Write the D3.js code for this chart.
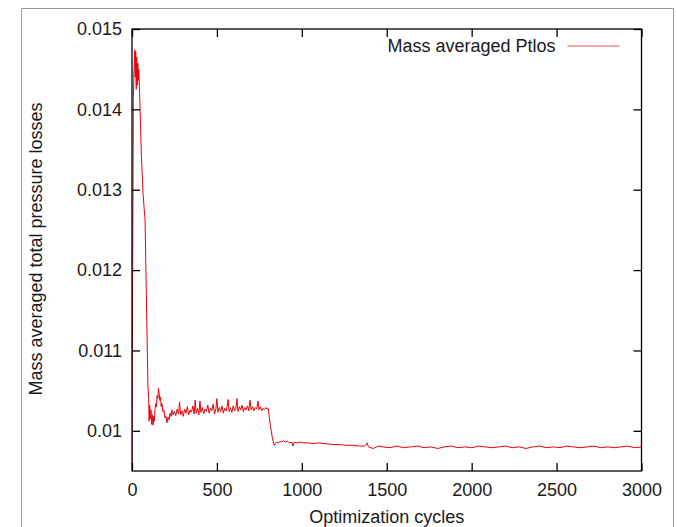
<!DOCTYPE html>
<html>
<head>
<meta charset="utf-8">
<script src="https://cdn.jsdelivr.net/npm/d3@7"></script>
<style>
  body { margin: 0; background: #fff; }
  svg text { font-family: 'Liberation Sans', Arial, sans-serif; fill: #1a1a1a; }
</style>
</head>
<body>
<div id="plot"></div>
<script>
// cycles and mass averaged total pressure losses
var cycles = [
  0, 4, 8, 12, 16, 19, 22, 25, 28, 31, 34, 37, 40, 45, 55, 65, 77, 86, 94, 98,
  101, 104, 108, 112, 116, 120, 124, 128, 132, 136, 140, 144, 148, 152, 156, 160, 164, 168, 172, 176,
  182, 188, 194, 200, 206, 212, 218, 224, 230, 236, 242,
  250, 258, 266, 274, 280, 286, 294, 302, 310, 318, 326, 334, 342, 350, 358, 366, 372, 378, 386, 394,
  400, 406, 414, 422, 430, 438, 446, 454, 462, 470, 478, 486, 494, 500, 506, 514, 522, 530, 538, 546,
  554, 560, 566, 572, 580, 588, 596, 604, 612, 618, 624, 632, 640, 648, 656, 664, 672, 680, 688, 695,
  702, 710, 718, 726, 734, 742, 748, 756, 764, 772, 780, 788, 796,
  802, 808, 814, 820, 826, 832, 838, 844, 852, 862, 872, 882, 892, 902, 915, 928, 940, 948, 956, 970,
  990, 1010, 1040, 1070, 1100, 1140, 1180, 1220, 1260, 1300, 1340, 1370, 1384, 1392, 1420, 1450, 1480,
  1520, 1560, 1600, 1640, 1680, 1720, 1760, 1800, 1840, 1880, 1920, 1960, 2000, 2040, 2080, 2120,
  2160, 2200, 2240, 2280, 2320, 2360, 2400, 2440, 2480, 2520, 2560, 2600, 2640, 2680, 2720, 2760,
  2800, 2840, 2880, 2920, 2960, 3000
]
var ptlos = [
  0.00930, 0.01200, 0.01415, 0.01450, 0.01474, 0.01440, 0.01472, 0.01425, 0.01465, 0.01430,
  0.01458, 0.01436, 0.01450, 0.01420, 0.01345, 0.01295, 0.01262, 0.01150, 0.01055, 0.01040,
  0.01012, 0.01032, 0.01015, 0.01026, 0.01008, 0.01020, 0.01007, 0.01018, 0.01012, 0.01028,
  0.01034, 0.01030, 0.01044, 0.01040, 0.01053, 0.01046, 0.01038, 0.01042, 0.01030, 0.01034,
  0.01024, 0.01026, 0.01016, 0.01018, 0.01010, 0.01017, 0.01014, 0.01022, 0.01018, 0.01026, 0.01020,
  0.01024, 0.01019, 0.01027, 0.01021, 0.01036, 0.01020, 0.01025, 0.01018, 0.01027, 0.01022,
  0.01030, 0.01020, 0.01026, 0.01023, 0.01031, 0.01021, 0.01038, 0.01022, 0.01028, 0.01020,
  0.01037, 0.01023, 0.01029, 0.01021, 0.01027, 0.01024, 0.01032, 0.01022, 0.01028, 0.01025,
  0.01033, 0.01021, 0.01027, 0.01040, 0.01023, 0.01029, 0.01024, 0.01031, 0.01022, 0.01028,
  0.01025, 0.01030, 0.01039, 0.01024, 0.01029, 0.01023, 0.01031, 0.01025, 0.01028, 0.01040,
  0.01024, 0.01030, 0.01026, 0.01032, 0.01024, 0.01029, 0.01026, 0.01031, 0.01025, 0.01038,
  0.01026, 0.01030, 0.01025, 0.01029, 0.01027, 0.01037, 0.01026, 0.01030, 0.01025, 0.01028,
  0.01026, 0.01029, 0.01027,
  0.01028, 0.01018, 0.01008, 0.01000, 0.00992, 0.00986, 0.00982, 0.00984, 0.00986, 0.00985,
  0.00987, 0.00986, 0.00988, 0.00986, 0.00987, 0.00985, 0.00986, 0.00981, 0.00986, 0.00985,
  0.00986, 0.00985, 0.00985, 0.00984, 0.00985, 0.00984, 0.00983, 0.00983, 0.00982, 0.00982,
  0.00981, 0.00981, 0.00985, 0.00980, 0.00978, 0.00981, 0.00980,
  0.00979, 0.00981, 0.00979, 0.00980, 0.00981, 0.00979, 0.00980, 0.00978, 0.00980, 0.00981,
  0.00979, 0.00980, 0.00979, 0.00981, 0.00980, 0.00979, 0.00980, 0.00981, 0.00979, 0.00980,
  0.00978, 0.00980, 0.00981, 0.00979, 0.00980, 0.00979, 0.00981, 0.00980, 0.00979, 0.00980,
  0.00981, 0.00979, 0.00980, 0.00979, 0.00980, 0.00981, 0.00979, 0.00980
]
var xTicks = [0, 500, 1000, 1500, 2000, 2500, 3000]
var yTicks = [0.01, 0.011, 0.012, 0.013, 0.014, 0.015]
var yTickLabels = ['0.01', '0.011', '0.012', '0.013', '0.014', '0.015']
var legendLabel = 'Mass averaged Ptlos'

var margin = { top: 29, right: 35.5, bottom: 56, left: 132 }
var width = 677 - margin.left - margin.right
var height = 527 - margin.top - margin.bottom

var data = cycles.map(function(c, i) {
  return { cycle: c, value: ptlos[i] }
})

var svg = d3
  .select('#plot')
  .append('svg')
  .attr('width', 677)
  .attr('height', 527)

// page frame
svg
  .append('path')
  .attr('d', 'M21.5,527V8.5H673.5V527')
  .style('fill', 'none')
  .style('stroke', '#9c9c9c')
  .style('stroke-width', 1)

var g = svg
  .append('g')
  .attr('transform', 'translate(' + margin.left + ',' + margin.top + ')')

var xScale = d3.scaleLinear().domain([0, 3000]).range([0, width])
var yScale = d3.scaleLinear().domain([0.0095, 0.015]).range([height, 0])

g.append('clipPath')
  .attr('id', 'clip')
  .append('rect')
  .attr('width', width)
  .attr('height', height)

var plotLine = d3
  .line()
  .x(function(d) {
    return xScale(d.cycle)
  })
  .y(function(d) {
    return yScale(d.value)
  })

g.append('path')
  .datum(data)
  .attr('clip-path', 'url(#clip)')
  .attr('d', plotLine)
  .style('fill', 'none')
  .style('stroke', '#e8000b')
  .style('stroke-width', 1)
  .style('stroke-linejoin', 'round')

// axes, gnuplot style: inward ticks mirrored on all sides
var tickLen = 8
var yFmt = function(d, i) {
  return yTickLabels[i]
}

var xAxis = d3
  .axisBottom(xScale)
  .tickValues(xTicks)
  .tickSize(-tickLen)
  .tickPadding(12)
  .tickFormat(d3.format('d'))
var yAxis = d3.axisLeft(yScale).tickValues(yTicks).tickSize(-tickLen).tickPadding(10).tickFormat(yFmt)

g.append('g')
  .attr('class', 'x axis')
  .attr('transform', 'translate(0,' + height + ')')
  .call(xAxis)

g.append('g')
  .attr('class', 'y axis')
  .call(yAxis)

g.append('g')
  .attr('class', 'x axis top')
  .call(d3.axisTop(xScale).tickValues(xTicks).tickSize(-tickLen).tickFormat(''))

g.append('g')
  .attr('class', 'y axis right')
  .attr('transform', 'translate(' + width + ',0)')
  .call(d3.axisRight(yScale).tickValues(yTicks).tickSize(-tickLen).tickFormat(''))

g.selectAll('.axis path').remove()
g.selectAll('.axis line').style('stroke', '#000').style('stroke-width', 1.3)
g.selectAll('.axis text')
  .style('font-size', '18px')
  .style('font-family', "'Liberation Sans', Arial, sans-serif")
  .style('fill', '#1a1a1a')

g.append('rect')
  .attr('width', width)
  .attr('height', height)
  .style('fill', 'none')
  .style('stroke', '#000')
  .style('stroke-width', 1.3)

// axis titles
svg
  .append('text')
  .attr('x', margin.left + width / 2)
  .attr('y', 523)
  .attr('text-anchor', 'middle')
  .style('font-size', '18px')
  .text('Optimization cycles')

svg
  .append('text')
  .attr('transform', 'translate(42,' + (margin.top + 220) + ') rotate(-90)')
  .attr('text-anchor', 'middle')
  .style('font-size', '18px')
  .text('Mass averaged total pressure losses')

// legend
var legend = g.append('g').attr('transform', 'translate(' + (width - 22) + ',17)')
legend
  .append('text')
  .attr('x', -64)
  .attr('dy', '0.35em')
  .attr('text-anchor', 'end')
  .style('font-size', '18px')
  .text(legendLabel)
legend
  .append('line')
  .attr('x1', -52)
  .attr('x2', 0)
  .style('stroke', '#e05050')
  .style('stroke-width', 1.2)
</script>
</body>
</html>
